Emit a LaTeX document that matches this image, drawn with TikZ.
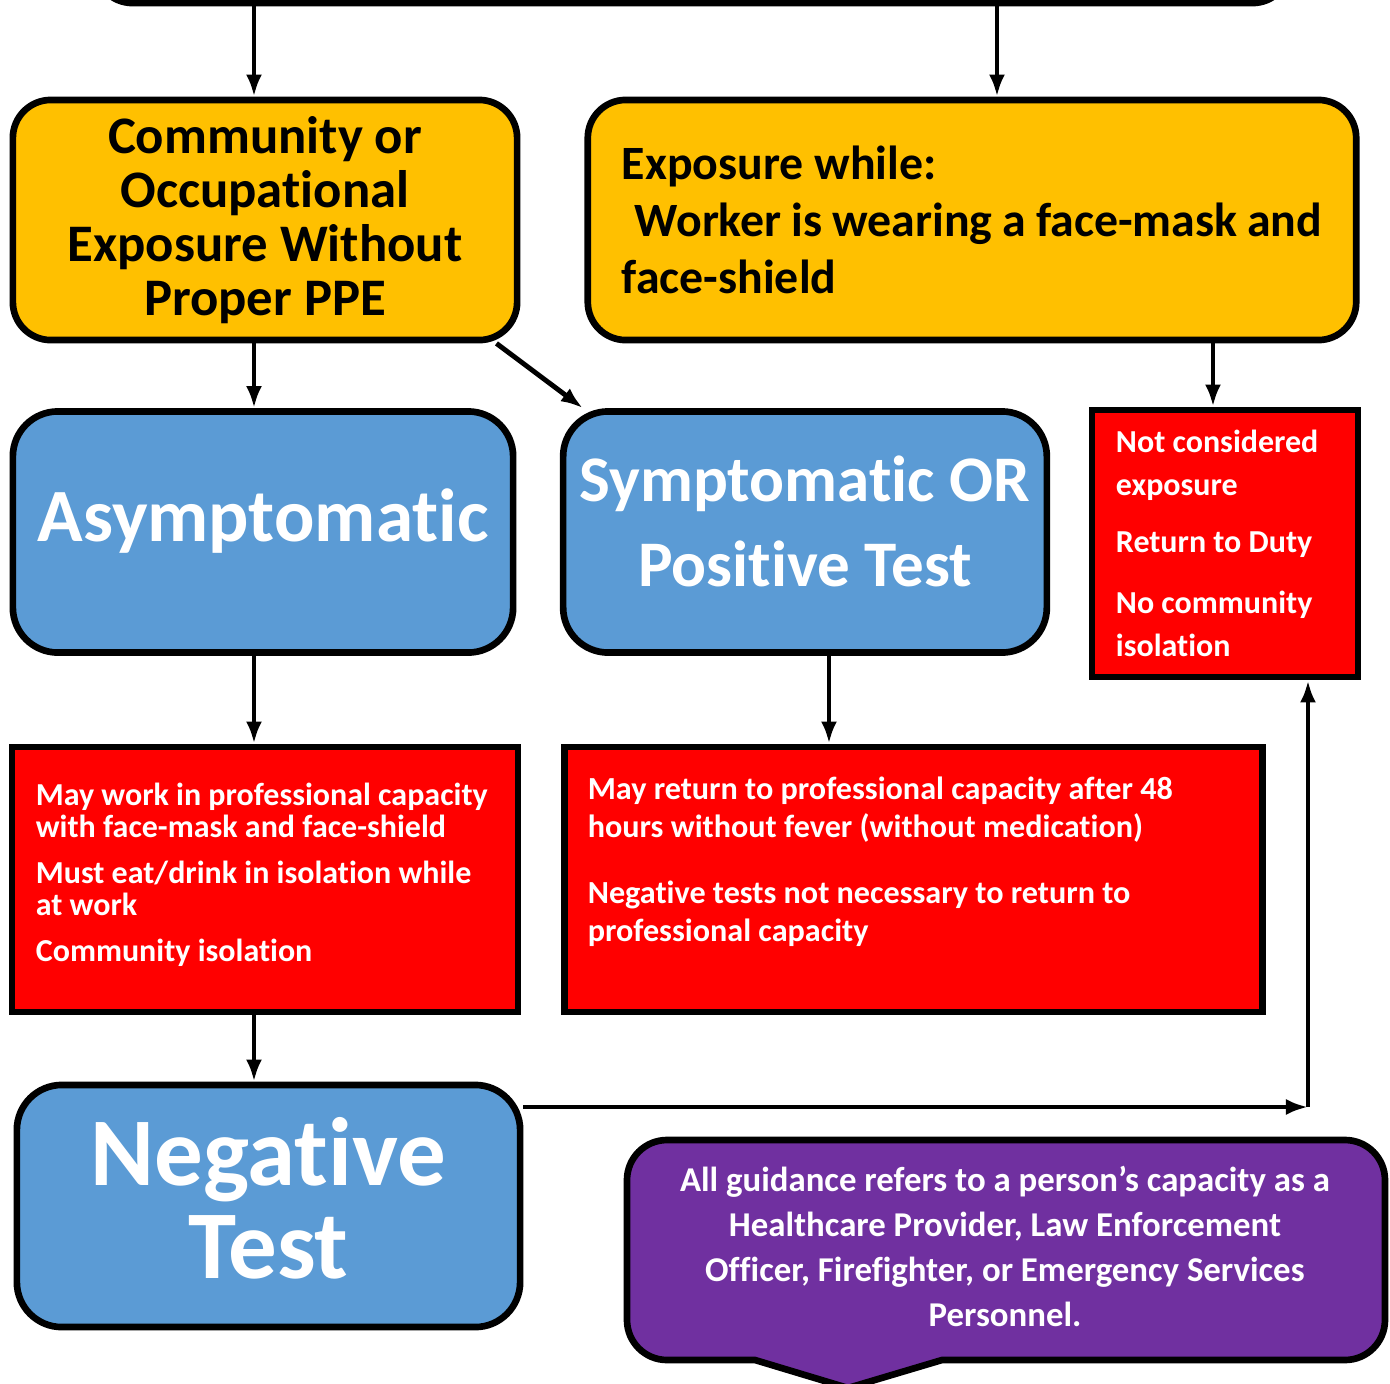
\documentclass[tikz,border=0pt]{standalone}
\usepackage{fontspec}
\setmainfont{Carlito}[Ligatures=NoCommon]
\usetikzlibrary{positioning, arrows.meta}
\tikzset{>={Latex[length=0.22cm, width=0.16cm]}}
\definecolor{gold}{HTML}{FFC000}
\definecolor{sky}{HTML}{5B9BD5}
\definecolor{alert}{HTML}{FF0000}
\definecolor{plum}{HTML}{7030A0}
\tikzset{
    box/.style={draw=black, line width=1.9pt},
    goldbox/.style={box, fill=gold, rounded corners=0.38cm},
    bluebox/.style={box, fill=sky, rounded corners=0.45cm, text=white, align=flush center},
    redbox/.style={box, fill=alert, text=white, align=flush left},
    link/.style={->, line width=1.4pt},
}

\begin{document}
\begin{tikzpicture}[x=0.01cm, y=-0.01cm]
    \useasboundingbox (0,0) rectangle (1390,1384);
    % first row
    \node[goldbox, minimum width=11.95cm, minimum height=2.06cm](top) at (692.5,-100){};
    \node[goldbox, minimum width=5.04cm, minimum height=2.40cm, align=flush center,
        font=\bfseries\fontsize{15}{15.4}\selectfont](comm) at (265,220)
        {Community or\\Occupational\\Exposure Without\\Proper PPE};
    \node[goldbox, minimum width=7.68cm, minimum height=2.40cm, align=flush left, text width=7.0cm,
        font=\bfseries\fontsize{13.6}{16.3}\selectfont](expo) at (972,220)
        {Exposure while:\\\hspace*{0.13cm}Worker is wearing a face-mask and\\face-shield};
    % second row
    \node[bluebox, minimum width=5.00cm, minimum height=2.41cm, text depth=0.34cm,
        font=\bfseries\fontsize{21.4}{26}\selectfont](asym) at (263,532){Asymptomatic};
    \node[bluebox, minimum width=4.80cm, minimum height=2.41cm, text width=4.6cm, text depth=1.07cm,
        font=\bfseries\fontsize{18.5}{24.2}\selectfont](symp) at (805,532)
        {Symptomatic OR\\Positive Test};
    \node[redbox, minimum width=2.66cm, minimum height=2.67cm, text width=2.18cm,
        font=\bfseries\fontsize{9.1}{12.2}\selectfont](notc) at (1225,543.5)
        {Not considered\\exposure\\[4pt]Return to Duty\\[5pt]No community\\isolation};
    % third row
    \node[redbox, minimum width=5.06cm, minimum height=2.65cm, text width=4.58cm, text depth=1.71cm,
        font=\bfseries\fontsize{9.1}{9.1}\selectfont](redl) at (265,879.5)
        {May work in professional capacity\\with face-mask and face-shield\\[4pt]
         Must eat/drink in isolation while\\at work\\[4pt]Community isolation};
    \node[redbox, minimum width=6.97cm, minimum height=2.65cm, text width=6.51cm, text depth=1.82cm,
        font=\bfseries\fontsize{9.15}{10.8}\selectfont](redr) at (913.5,879.5)
        {May return to professional capacity after 48\\hours without fever (without medication)\\[8pt]
         Negative tests not necessary to return to\\professional capacity};
    % last row
    \node[bluebox, minimum width=5.03cm, minimum height=2.42cm, text width=4.6cm, text depth=1.09cm,
        font=\bfseries\fontsize{27.6}{26.5}\selectfont](neg) at (268.5,1206){Negative\\Test};
    \fill[plum, draw=black, line width=1.9pt, rounded corners=0.4cm]
        (627,1140) -- (1385,1140) -- (1385,1360)[sharp corners] -- (942,1360) -- (848,1388)
        -- (755,1360)[rounded corners=0.4cm] -- (627,1360) -- cycle;
    \node[text=white, align=flush center, font=\bfseries\fontsize{9.9}{12.8}\selectfont](note) at (1005,1246)
        {All guidance refers to a person’s capacity as a\\Healthcare Provider, Law Enforcement\\
         Officer, Firefighter, or Emergency Services\\Personnel.};
    % connectors
    \coordinate (lane) at (254,0);
    \coordinate (lanet) at (997,0);
    \coordinate (lanee) at (1213,0);
    \coordinate (lanes) at (829,0);
    \coordinate (bend) at (1308,1107);
    \draw[link](lane |- top.south)--(lane |- comm.north);
    \draw[link](lanet |- top.south)--(lanet |- expo.north);
    \draw[link](lane |- comm.south)--(lane |- asym.north);
    \draw[link]([xshift=-0.24cm]comm.south east)--([xshift=0.23cm]symp.north west);
    \draw[link](lanee |- expo.south)--(lanee |- notc.north);
    \draw[link](lane |- asym.south)--(lane |- redl.north);
    \draw[link](lanes |- symp.south)--(lanes |- redr.north);
    \draw[link](lane |- redl.south)--(lane |- neg.north);
    \draw[link](neg.east |- bend)--(bend);
    \draw[link](bend)--(bend |- notc.south);
\end{tikzpicture}
\end{document}
